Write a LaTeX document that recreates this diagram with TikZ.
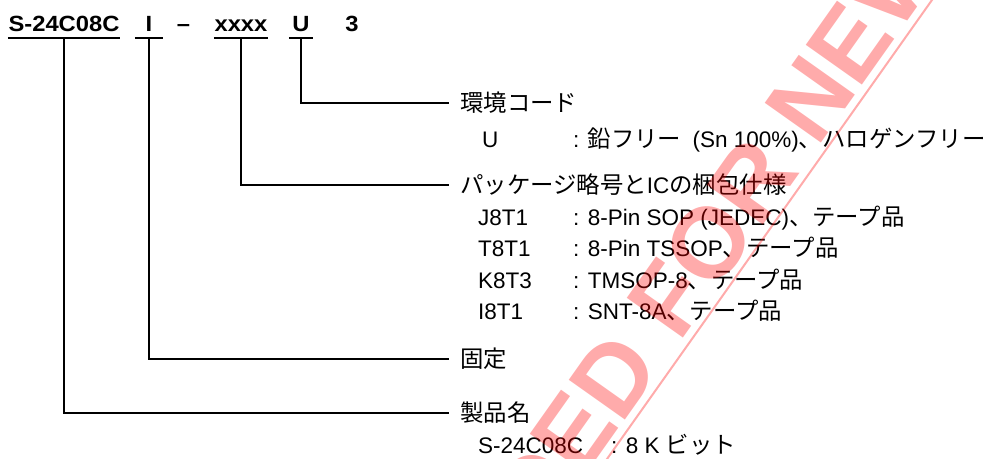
\documentclass[tikz,border=0pt]{standalone}
\usepackage{fontspec}
\setmainfont{Liberation Sans}
\newfontfamily\jpfont{Noto Sans CJK JP}[Scale=1.04]
\newfontfamily\hdrfont{Liberation Sans Bold}[FakeStretch=1.08]
\newfontfamily\wmfont{Liberation Sans Bold}
\tikzset{
  hdr/.style={anchor=base, inner xsep=0pt, inner ysep=7pt, text depth=0pt,
    font=\hdrfont\fontsize{22}{26}\selectfont},
  uline/.style={line width=1.7pt},
  conn/.style={line width=1.7pt},
  lbl/.style={anchor=west, inner xsep=11pt, inner ysep=0pt, text height=16pt,
    text depth=0pt, font=\fontsize{22.5}{26}\selectfont\jpfont},
  entry/.style={anchor=base west, inner sep=0pt, font=\fontsize{22.5}{26}\selectfont},
  wmark/.style={anchor=base west, inner sep=0pt, text=red, text opacity=0.33,
    font=\wmfont\fontsize{100}{100}\selectfont},
  wmline/.style={draw=red, draw opacity=0.33, line width=2pt}
}
\begin{document}
\begin{tikzpicture}[x=1pt, y=-1pt]
  \clip (0,0) rectangle (1006,458);

  % part number
  \node[hdr, minimum width=112pt] (pname) at (64,31) {S-24C08C};
  \node[hdr, minimum width=28pt] (pfix) at (149,31) {I};
  \node[hdr] (pdash) at (183.5,31) {–};
  \node[hdr, minimum width=54pt] (ppkg) at (241,31) {xxxx};
  \node[hdr, minimum width=24pt] (penv) at (301,31) {U};
  \node[hdr] (prev) at (352,31) {3};
  \foreach \p in {pname, pfix, ppkg, penv}
    \draw[uline] (\p.south west) -- (\p.south east);

  % labels
  \node[lbl] (lenv) at (449,103) {環境コード};
  \node[lbl] (lpkg) at (449,185) {パッケージ略号と{\rmfamily IC}の梱包仕様};
  \node[lbl] (lfix) at (449,359) {固定};
  \node[lbl] (lname) at (449,413) {製品名};

  \draw[conn] (penv.south) |- (lenv.west);
  \draw[conn] (ppkg.south) |- (lpkg.west);
  \draw[conn] (pfix.south) |- (lfix.west);
  \draw[conn] (pname.south) |- (lname.west);

  % entries
  \node[entry] (kenv) at (482,147) {U};
  \node[entry] (venv) at (573,147) {: {\jpfont 鉛フリー}\enspace(Sn 100\%){\jpfont 、ハロゲンフリー}};
  \foreach \code/\desc [count=\i] in {J8T1/{8-Pin SOP (JEDEC)}, T8T1/{8-Pin TSSOP},
      K8T3/{TMSOP-8}, I8T1/{SNT-8A}} {
    \node[entry] (kpkg\i) at (478,193.5+31.5*\i) {\code};
    \node[entry] (vpkg\i) at (573,193.5+31.5*\i) {: \desc{\jpfont 、テープ品}};
  }
  \node[entry] (kname) at (478,453) {S-24C08C};
  \node[entry] (vname) at (611,453) {: 8 K {\jpfont ビット}};

  % watermark
  \node[wmark, rotate=54.7] (wm) at (679,344) {\llap{NOT RECOMMENDED }FOR NEW DESIGN};
  \draw[wmline] (960.3,-40) -- (581.5,495);
\end{tikzpicture}
\end{document}
